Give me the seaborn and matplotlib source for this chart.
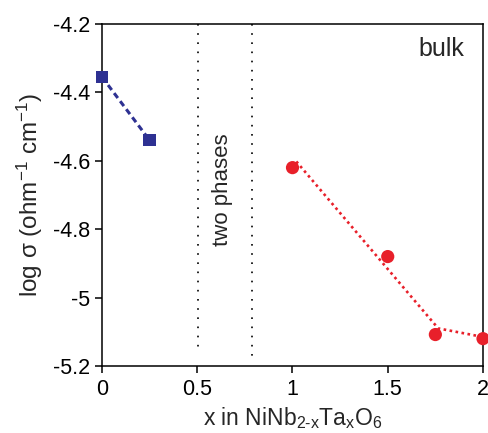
import matplotlib
matplotlib.use("Agg")
import matplotlib.pyplot as plt
import seaborn as sns
import pandas as pd

# NiNb2-xTaxO6 bulk conductivity
x_nb_rich = [0.0, 0.25]
logsig_nb_rich = [-4.355, -4.54]

x_ta_rich = [1.0, 1.5, 1.75, 2.0]
logsig_ta_rich = [-4.62, -4.88, -5.108, -5.12]

# guide line through the Ta-rich points
x_guide = [1.02, 1.765, 2.0]
logsig_guide = [-4.602, -5.09, -5.115]

# two-phase region boundaries
phase_bounds = [0.505, 0.785]
phase_bound_bottom = [-5.165, -5.19]

xticks = [0, 0.5, 1, 1.5, 2]
xticklabels = ["0", "0.5", "1", "1.5", "2"]
yticks = [-5.2, -5.0, -4.8, -4.6, -4.4, -4.2]
yticklabels = ["-5.2", "-5", "-4.8", "-4.6", "-4.4", "-4.2"]

sns.set_style("ticks")
plt.rcParams["font.family"] = ["Liberation Sans", "DejaVu Sans"]
plt.rcParams["mathtext.fontset"] = "custom"
plt.rcParams["mathtext.rm"] = "Liberation Sans"
plt.rcParams["mathtext.it"] = "Liberation Sans:italic"
plt.rcParams["axes.unicode_minus"] = False

blue = "#2E3192"
red = "#E8202A"

fig = plt.figure(figsize=(4.89, 4.33), dpi=100)
ax = fig.add_axes([0.2086, 0.1547, 0.9877 - 0.2086, 0.9446 - 0.1547])

df_nb = pd.DataFrame({"x": x_nb_rich, "y": logsig_nb_rich})
df_ta = pd.DataFrame({"x": x_ta_rich, "y": logsig_ta_rich})
df_guide = pd.DataFrame({"x": x_guide, "y": logsig_guide})

for xb, yb in zip(phase_bounds, phase_bound_bottom):
    ax.plot([xb, xb], [-4.2, yb], color="black", lw=1.2,
            linestyle=(0, (1, 4.5)), zorder=1)

sns.lineplot(data=df_nb, x="x", y="y", ax=ax, color=blue, lw=2.2,
             linestyle=(0, (2.0, 1.3)), zorder=2)
sns.lineplot(data=df_guide, x="x", y="y", ax=ax, color=red, lw=1.9,
             linestyle=(0, (1, 1.3)), zorder=2)
sns.scatterplot(data=df_nb, x="x", y="y", ax=ax, color=blue, marker="s",
                s=80, edgecolor="none", zorder=3, clip_on=False)
sns.scatterplot(data=df_ta, x="x", y="y", ax=ax, color=red, marker="o",
                s=90, edgecolor="none", zorder=3, clip_on=False)

ax.text(0.635, -4.685, "two phases", rotation=90, ha="center", va="center",
        fontsize=16)
ax.text(1.78, -4.272, "bulk", ha="center", va="center", fontsize=18)

ax.set_xlim(0, 2)
ax.set_ylim(-5.2, -4.2)
ax.set_xticks(xticks)
ax.set_xticklabels(xticklabels)
ax.set_yticks(yticks)
ax.set_yticklabels(yticklabels)
ax.tick_params(axis="both", direction="out", length=5, width=1.1,
               labelsize=15.5, color="black", labelcolor="black")
ax.tick_params(axis="x", pad=4)
for sp in ax.spines.values():
    sp.set_visible(True)
    sp.set_linewidth(1.1)
    sp.set_color("black")

ax.set_xlabel(r"x in NiNb$_{\mathrm{2\text{-}x}}$Ta$_{\mathrm{x}}$O$_{\mathrm{6}}$",
              fontsize=16.5, labelpad=4)
ax.set_ylabel(r"log σ (ohm$^{\mathrm{-1}}$ cm$^{\mathrm{-1}}$)", fontsize=17.5,
              labelpad=6)

fig.savefig("out.png", dpi=100)
